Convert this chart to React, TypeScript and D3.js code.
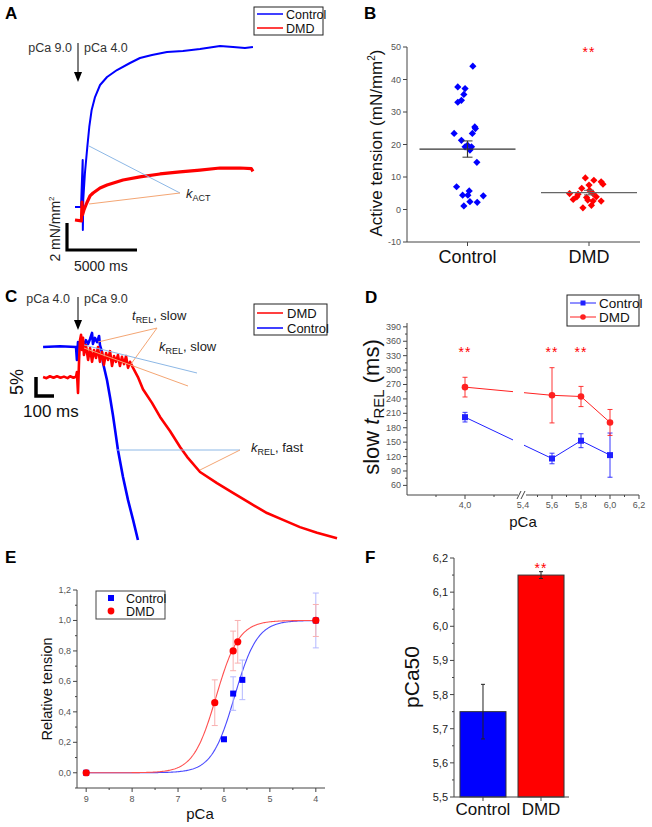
import React from "react";
import * as d3 from "d3";

const FONT = "'Liberation Sans', Arial, Helvetica, sans-serif";
const BLUE = "#0000ff";
const RED = "#ff0000";
const ANN_BLUE = "#8db8e6";
const ANN_ORANGE = "#f4a674";
const TICK = "#555";

// ---------- Panel A: activation traces, time (s) vs tension (mN/mm²)
const aControlTrace: [number, number][] = [
  [-0.5, 0.96], [-0.07, 0.96], [0.05, 4.44], [0.06, -0.74], [0.09, 1.5], [0.21, 3.48], [0.38, 5.41],
  [0.52, 6.89], [0.69, 8.15], [0.93, 9.11], [1.29, 10.0], [1.79, 10.59], [2.5, 11.11], [3.43, 11.63],
  [4.14, 12.0], [5.0, 12.22], [6.07, 12.44], [7.21, 12.52], [8.43, 12.67], [9.86, 12.89], [10.79, 12.81],
  [11.64, 12.74], [12.21, 12.81],
];
const aDmdTrace: [number, number][] = [
  [-0.5, 0], [-0.04, -0.07], [0.0, 1.33], [0.03, 0.37], [0.14, 0.74], [0.34, 1.26], [0.57, 1.78],
  [0.79, 2.0], [1.29, 2.37], [1.79, 2.59], [2.93, 2.96], [4.14, 3.19], [5.57, 3.41], [7.0, 3.56],
  [8.43, 3.7], [9.86, 3.85], [11.29, 3.85], [12.1, 3.8], [12.21, 3.6],
];

// ---------- Panel B: active tension scatter [jitter (fraction of category step), value]
const bCategories = ["Control", "DMD"];
const bControlPoints: [number, number][] = [
  [0.044, 44.1], [-0.08, 37.7], [-0.02, 37.2], [-0.03, 35.4], [-0.05, 33.6], [-0.08, 33.0], [0.06, 25.4],
  [0.065, 24.9], [-0.11, 23.4], [0.04, 23.4], [-0.05, 21.3], [0.0, 19.8], [0.033, 19.3], [-0.02, 19.3],
  [0.02, 18.3], [0.077, 14.5], [-0.09, 7.0], [0.014, 5.7], [-0.04, 4.4], [0.003, 4.4], [0.13, 4.2],
  [0.02, 2.4], [0.08, 2.2], [-0.03, 1.1],
];
const bDmdPoints: [number, number][] = [
  [-0.03, 9.7], [0.04, 9.0], [0.1, 8.5], [0.115, 7.8], [0.0, 7.5], [-0.06, 6.5], [0.005, 5.9],
  [-0.16, 4.9], [-0.09, 4.7], [0.033, 4.9], [-0.1, 3.9], [-0.02, 3.7], [-0.13, 3.1], [-0.01, 2.9],
  [0.1, 2.6], [0.033, 2.6], [0.02, 1.3], [-0.05, 0.5], [0.06, 3.9],
];
const bMeans = [18.6, 5.2];
const bSem = [2.5, 0.7];
const bYTicks = [-10, 0, 10, 20, 30, 40, 50];

// ---------- Panel C: relaxation traces, time (ms) vs relative tension (%)
const cDmdTrace: [number, number][] = [
  [-194, 92.1], [-175, 91.8], [-156, 92.3], [-136, 91.9], [-117, 92.3], [-97, 91.9], [-78, 92.2],
  [-58, 91.8], [-44, 92.3], [-25, 91.9], [-11, 92.2], [-6, 93.4], [0, 87.9], [6, 96.6], [11, 101.8],
  [17, 103.2], [22, 99.2], [28, 102.4], [33, 97.9], [44, 100.5], [56, 96.6], [67, 99.7], [78, 96.1],
  [89, 99.2], [100, 97.1], [111, 100], [122, 96.1], [133, 98.7], [144, 95.3], [156, 98.4], [167, 96.6],
  [178, 98.9], [189, 95], [200, 97.6], [211, 96.1], [222, 97.9], [233, 95], [244, 97.4], [256, 95.5],
  [267, 97.6], [278, 94.5], [289, 96.1], [306, 94.5], [333, 92.1], [361, 88.9], [411, 85.3], [456, 81.6],
  [511, 77.9], [567, 73.7], [606, 71.1], [678, 67.1], [772, 64.2], [861, 61.6], [956, 58.9], [1050, 56.3],
  [1139, 54.5], [1233, 52.6], [1328, 51.1], [1439, 49.7],
];
const cControlTrace: [number, number][] = [
  [-194, 100], [-100, 100.2], [-11, 100], [-6, 96.6], [0, 101.3], [11, 100.5], [22, 102.4], [33, 100.3],
  [44, 101.8], [56, 100.8], [67, 102.1], [78, 103.7], [83, 100.8], [94, 102.4], [106, 101.3], [117, 102.9],
  [122, 100.5], [133, 98.7], [139, 95.8], [161, 91.3], [178, 86.8], [194, 82.1], [206, 78.2], [222, 72.9],
  [250, 65.8], [278, 59.7], [306, 54.5], [333, 49.2],
];

// ---------- Panel D: slow tREL vs pCa
const dPca = [4.0, 5.6, 5.8, 6.0];
const dControl = [202, 116, 153, 123];
const dControlErr = [10, 11, 14.5, 46];
const dDmd = [264.5, 247.5, 245, 191];
const dDmdErr = [20.5, 57.5, 21, 27];
const dSignif = [4.0, 5.6, 5.8];
const dYTicks = [60, 90, 120, 150, 180, 210, 240, 270, 300, 330, 360, 390];
const dXTicks = [4.0, 5.4, 5.6, 5.8, 6.0, 6.2];

// ---------- Panel E: relative tension vs pCa
const ePcaControl = [9, 6.0, 5.8, 5.6, 4.0];
const eControl = [0, 0.22, 0.52, 0.61, 1.0];
const eControlErr = [0, 0, 0.11, 0.13, 0.18];
const ePcaDmd = [9, 6.2, 5.8, 5.7, 4.0];
const eDmd = [0, 0.46, 0.8, 0.86, 1.0];
const eDmdErr = [0, 0.15, 0.13, 0.14, 0.105];
const eFitPca50 = [5.77, 6.17];
const eFitHill = [1.75, 1.75];
const eXTicks = [9, 8, 7, 6, 5, 4];
const eYTicks = [0, 0.2, 0.4, 0.6, 0.8, 1.0, 1.2];

// ---------- Panel F: pCa50
const fCategories = ["Control", "DMD"];
const fValues = [5.75, 6.15];
const fErr = [0.08, 0.01];
const fYTicks = [5.5, 5.6, 5.7, 5.8, 5.9, 6.0, 6.1, 6.2];

const comma = (d: number, digits: number) => d.toFixed(digits).replace(".", ",");

const Letter = ({ x, y, t }: { x: number; y: number; t: string }) => (
  <text x={x} y={y} fontWeight="bold" fontSize={17} fill="#000">{t}</text>
);

const Arrow = ({ x, y0, y1 }: { x: number; y0: number; y1: number }) => (
  <g>
    <line x1={x} x2={x} y1={y0} y2={y1 - 9} stroke="#000" strokeWidth={1} />
    <path d={`M${x - 4},${y1 - 10} L${x + 4},${y1 - 10} L${x},${y1} Z`} fill="#000" />
  </g>
);

const PanelA = () => {
  const x = d3.scaleLinear().domain([0, 5]).range([82, 152]);
  const y = d3.scaleLinear().domain([0, 2]).range([220, 193]);
  const line = d3.line<[number, number]>().x((d) => x(d[0])).y((d) => y(d[1]));
  const barW = x(5) - x(0);
  const barH = y(0) - y(2);
  return (
    <g>
      <Letter x={5} y={19} t="A" />
      <Arrow x={78} y0={43} y1={82} />
      <text x={72} y={52} fontSize={12.5} textAnchor="end" fill="#333">pCa 9.0</text>
      <text x={84} y={52} fontSize={12.5} fill="#333">pCa 4.0</text>
      <path d={line(aControlTrace)!} fill="none" stroke={BLUE} strokeWidth={2} strokeLinejoin="round" />
      <path d={line(aDmdTrace)!} fill="none" stroke={RED} strokeWidth={3.2} strokeLinejoin="round" />
      <line x1={89} y1={146} x2={180} y2={193} stroke={ANN_BLUE} strokeWidth={1} />
      <line x1={89} y1={204} x2={180} y2={193} stroke={ANN_ORANGE} strokeWidth={1} />
      <text x={186} y={198} fontSize={13} fill="#222">
        <tspan fontStyle="italic">k</tspan>
        <tspan fontSize={9} dy={3}>ACT</tspan>
      </text>
      <path d={`M67,${250 - barH} V250 H${67 + barW}`} fill="none" stroke="#000" strokeWidth={3.2} />
      <text transform="translate(60,229) rotate(-90)" fontSize={14} textAnchor="middle" fill="#222">
        2 mN/mm<tspan fontSize={8} dy={-6}>2</tspan>
      </text>
      <text x={74} y={271} fontSize={14} fill="#222">5000 ms</text>
      <rect x={254} y={7} width={69} height={28} fill="#fff" stroke="#222" strokeWidth={1} />
      <line x1={257} x2={283} y1={14} y2={14} stroke={BLUE} strokeWidth={1.5} />
      <line x1={257} x2={283} y1={28} y2={28} stroke={RED} strokeWidth={1.5} />
      <text x={286} y={18.5} fontSize={12.5} fill="#111">Control</text>
      <text x={286} y={32.5} fontSize={12.5} fill="#111">DMD</text>
    </g>
  );
};

const PanelB = () => {
  const y = d3.scaleLinear().domain([-10, 50]).range([242, 47]);
  const x = d3.scalePoint<string>().domain(bCategories).range([467.5, 589]);
  const step = 589 - 467.5;
  const diamond = d3.symbol().type(d3.symbolSquare).size(26)()!;
  const groups = [bControlPoints, bDmdPoints];
  const colors = [BLUE, RED];
  return (
    <g>
      <Letter x={364} y={19} t="B" />
      <line x1={407} x2={407} y1={47} y2={242} stroke="#444" />
      <line x1={407} x2={640} y1={242} y2={242} stroke="#444" />
      {bYTicks.map((t) => (
        <g key={t}>
          <line x1={403} x2={407} y1={y(t)} y2={y(t)} stroke="#444" />
          <text x={401} y={y(t) + 3} fontSize={9} textAnchor="end" fill={TICK}>{t}</text>
        </g>
      ))}
      {bCategories.map((c) => (
        <g key={c}>
          <line x1={x(c)!} x2={x(c)!} y1={242} y2={246} stroke="#444" />
          <text x={x(c)!} y={263} fontSize={18} textAnchor="middle" fill="#111">{c}</text>
        </g>
      ))}
      <text transform="translate(382,143) rotate(-90)" fontSize={17} textAnchor="middle" fill="#111">
        Active tension (mN/mm<tspan fontSize={10} dy={-7}>2</tspan><tspan dy={7}>)</tspan>
      </text>
      {groups.map((g, gi) =>
        g.map((p, i) => (
          <path key={`${gi}-${i}`} d={diamond}
            transform={`translate(${x(bCategories[gi])! + p[0] * step},${y(p[1])}) rotate(45)`}
            fill={colors[gi]} />
        ))
      )}
      {bCategories.map((c, i) => (
        <g key={c} stroke={i === 0 ? "#333" : "#666"}>
          <line x1={x(c)! - 48} x2={x(c)! + 48} y1={y(bMeans[i])} y2={y(bMeans[i])} strokeWidth={1.3} />
          <line x1={x(c)!} x2={x(c)!} y1={y(bMeans[i] - bSem[i])} y2={y(bMeans[i] + bSem[i])} strokeWidth={1.2} />
          <line x1={x(c)! - 5} x2={x(c)! + 5} y1={y(bMeans[i] - bSem[i])} y2={y(bMeans[i] - bSem[i])} />
          <line x1={x(c)! - 5} x2={x(c)! + 5} y1={y(bMeans[i] + bSem[i])} y2={y(bMeans[i] + bSem[i])} />
        </g>
      ))}
      <text x={x("DMD")!} y={57} fontSize={14} textAnchor="middle" fill={RED} letterSpacing={1}>**</text>
    </g>
  );
};

const PanelC = () => {
  const x = d3.scaleLinear().domain([0, 100]).range([78, 96]);
  const y = d3.scaleLinear().domain([100, 95]).range([347, 366]);
  const line = d3.line<[number, number]>().x((d) => x(d[0])).y((d) => y(d[1]));
  const barW = x(100) - x(0);
  const barH = y(95) - y(100);
  return (
    <g>
      <Letter x={5} y={302} t="C" />
      <Arrow x={78} y0={297} y1={330} />
      <text x={70} y={303} fontSize={12.5} textAnchor="end" fill="#333">pCa 4.0</text>
      <text x={84} y={303} fontSize={12.5} fill="#333">pCa 9.0</text>
      <path d={line(cControlTrace)!} fill="none" stroke={BLUE} strokeWidth={2.6} strokeLinejoin="round" />
      <path d={line(cDmdTrace)!} fill="none" stroke={RED} strokeWidth={2.6} strokeLinejoin="round" />
      <line x1={157} y1={328} x2={98} y2={342} stroke={ANN_ORANGE} />
      <line x1={157} y1={328} x2={131} y2={364} stroke={ANN_ORANGE} />
      <line x1={84} y1={345} x2={197} y2={373} stroke={ANN_BLUE} />
      <line x1={84} y1={348} x2={188} y2={386} stroke={ANN_ORANGE} />
      <line x1={117} y1={450} x2={240} y2={450} stroke={ANN_BLUE} />
      <line x1={200} y1={470} x2={240} y2={450} stroke={ANN_ORANGE} />
      <text x={132} y={320} fontSize={13} fill="#222">
        <tspan fontStyle="italic">t</tspan><tspan fontSize={9} dy={3}>REL</tspan><tspan dy={-3}>, slow</tspan>
      </text>
      <text x={159} y={351} fontSize={13} fill="#222">
        <tspan fontStyle="italic">k</tspan><tspan fontSize={9} dy={3}>REL</tspan><tspan dy={-3}>, slow</tspan>
      </text>
      <text x={251} y={452} fontSize={13} fill="#222">
        <tspan fontStyle="italic">k</tspan><tspan fontSize={9} dy={3}>REL</tspan><tspan dy={-3}>, fast</tspan>
      </text>
      <path d={`M36,${396 - barH} V396 H${36 + barW}`} fill="none" stroke="#000" strokeWidth={3.5} />
      <text transform="translate(23,382) rotate(-90)" fontSize={18} textAnchor="middle" fill="#111">5%</text>
      <text x={23} y={417} fontSize={17} fill="#111">100 ms</text>
      <rect x={254} y={304} width={73} height={31} fill="#fff" stroke="#222" />
      <line x1={257} x2={283} y1={313} y2={313} stroke={RED} strokeWidth={1.5} />
      <line x1={257} x2={283} y1={328} y2={328} stroke={BLUE} strokeWidth={1.5} />
      <text x={287} y={317.5} fontSize={13} fill="#111">DMD</text>
      <text x={287} y={332.5} fontSize={13} fill="#111">Control</text>
    </g>
  );
};

function gapSegments(p1: [number, number], p2: [number, number], g0: number, g1: number) {
  if (p1[0] < g0 && p2[0] > g1) {
    const at = (gx: number): [number, number] => {
      const t = (gx - p1[0]) / (p2[0] - p1[0]);
      return [gx, p1[1] + t * (p2[1] - p1[1])];
    };
    return [[p1, at(g0)], [at(g1), p2]];
  }
  return [[p1, p2]];
}

const PanelD = () => {
  const x = d3.scaleLinear().domain([3.6, 4.4, 5.4, 6.2]).range([407, 523, 523, 639]);
  const y = d3.scaleLinear().domain([40, 398]).range([495, 323]);
  const series = [
    { v: dControl, e: dControlErr, c: "#2020ff", sq: true },
    { v: dDmd, e: dDmdErr, c: "#ff2020", sq: false },
  ];
  const minorY = d3.range(75, 390, 30);
  const minorX = [3.8, 4.2, 5.5, 5.7, 5.9, 6.1];
  return (
    <g>
      <Letter x={365} y={303} t="D" />
      <line x1={407} x2={407} y1={323} y2={495} stroke="#444" />
      <line x1={407} x2={639} y1={495} y2={495} stroke="#444" />
      {dYTicks.map((t) => (
        <g key={t}>
          <line x1={403} x2={407} y1={y(t)} y2={y(t)} stroke="#444" />
          <text x={401} y={y(t) + 3} fontSize={9} textAnchor="end" fill={TICK}>{t}</text>
        </g>
      ))}
      {minorY.map((t) => (
        <line key={t} x1={405} x2={407} y1={y(t)} y2={y(t)} stroke="#444" />
      ))}
      {dXTicks.map((t) => (
        <g key={t}>
          <line x1={x(t)} x2={x(t)} y1={495} y2={499} stroke="#444" />
          <text x={x(t)} y={508} fontSize={9} textAnchor="middle" fill={TICK}>{comma(t, 1)}</text>
        </g>
      ))}
      {minorX.map((t) => (
        <line key={t} x1={x(t)} x2={x(t)} y1={495} y2={497} stroke="#444" />
      ))}
      <rect x={518} y={490} width={8} height={9} fill="#fff" />
      <line x1={517} y1={499} x2={521} y2={491} stroke="#444" />
      <line x1={521} y1={499} x2={525} y2={491} stroke="#444" />
      <text transform="translate(379,407) rotate(-90)" fontSize={22} textAnchor="middle" fill="#111">
        slow <tspan fontStyle="italic">t</tspan><tspan fontSize={15} dy={5}>REL</tspan><tspan dy={-5}> (ms)</tspan>
      </text>
      <text x={523} y={527} fontSize={15} textAnchor="middle" fill="#111">pCa</text>
      {series.map((s, si) => {
        const pts = dPca.map((p, i) => [x(p), y(s.v[i])] as [number, number]);
        const segs: [number, number][][] = [];
        for (let i = 0; i < pts.length - 1; i++) segs.push(...gapSegments(pts[i], pts[i + 1], 513, 524));
        return (
          <g key={si}>
            {segs.map((sg, k) => (
              <line key={k} x1={sg[0][0]} y1={sg[0][1]} x2={sg[1][0]} y2={sg[1][1]} stroke={s.c} strokeWidth={1} />
            ))}
            {dPca.map((p, i) => (
              <g key={i} stroke={s.c} strokeWidth={0.9}>
                <line x1={x(p)} x2={x(p)} y1={y(s.v[i] - s.e[i])} y2={y(s.v[i] + s.e[i])} />
                <line x1={x(p) - 2.5} x2={x(p) + 2.5} y1={y(s.v[i] - s.e[i])} y2={y(s.v[i] - s.e[i])} />
                <line x1={x(p) - 2.5} x2={x(p) + 2.5} y1={y(s.v[i] + s.e[i])} y2={y(s.v[i] + s.e[i])} />
              </g>
            ))}
            {dPca.map((p, i) =>
              s.sq ? (
                <rect key={`m${i}`} x={x(p) - 3} y={y(s.v[i]) - 3} width={6} height={6} fill={s.c} />
              ) : (
                <circle key={`m${i}`} cx={x(p)} cy={y(s.v[i])} r={3.3} fill={s.c} />
              )
            )}
          </g>
        );
      })}
      {dSignif.map((p) => (
        <text key={p} x={x(p)} y={357} fontSize={14} textAnchor="middle" fill={RED} letterSpacing={1}>**</text>
      ))}
      <rect x={567} y={295} width={72} height={31} fill="#fff" stroke="#222" />
      <line x1={570} x2={596} y1={303} y2={303} stroke="#2020ff" />
      <rect x={580.5} y={300.5} width={5} height={5} fill="#2020ff" />
      <line x1={570} x2={596} y1={317} y2={317} stroke="#ff2020" />
      <circle cx={583} cy={317} r={2.8} fill="#ff2020" />
      <text x={599} y={308} fontSize={13.5} fill="#111">Control</text>
      <text x={599} y={322} fontSize={13.5} fill="#111">DMD</text>
    </g>
  );
};

const PanelE = () => {
  const x = d3.scaleLinear().domain([9.2, 3.8]).range([77, 325]);
  const y = d3.scaleLinear().domain([-0.1, 1.2]).range([788, 590]);
  const pcaGrid = d3.range(9, 3.99, -0.02);
  const curve = (p50: number, n: number) =>
    d3.line<number>().x((p) => x(p)).y((p) => y(1 / (1 + Math.pow(10, n * (p - p50)))))(pcaGrid)!;
  const minorX = [8.5, 7.5, 6.5, 5.5, 4.5];
  const minorY = [-0.1, 0.1, 0.3, 0.5, 0.7, 0.9, 1.1];
  return (
    <g>
      <Letter x={5} y={563} t="E" />
      <line x1={77} x2={77} y1={590} y2={788} stroke="#444" />
      <line x1={77} x2={325} y1={788} y2={788} stroke="#444" />
      {eYTicks.map((t) => (
        <g key={t}>
          <line x1={73} x2={77} y1={y(t)} y2={y(t)} stroke="#444" />
          <text x={71} y={y(t) + 3} fontSize={9} textAnchor="end" fill={TICK}>{comma(t, 1)}</text>
        </g>
      ))}
      {minorY.map((t) => (
        <line key={t} x1={75} x2={77} y1={y(t)} y2={y(t)} stroke="#444" />
      ))}
      {eXTicks.map((t) => (
        <g key={t}>
          <line x1={x(t)} x2={x(t)} y1={788} y2={792} stroke="#444" />
          <text x={x(t)} y={802} fontSize={9} textAnchor="middle" fill={TICK}>{t}</text>
        </g>
      ))}
      {minorX.map((t) => (
        <line key={t} x1={x(t)} x2={x(t)} y1={788} y2={790} stroke="#444" />
      ))}
      <text transform="translate(52,689) rotate(-90)" fontSize={14.5} textAnchor="middle" fill="#111">Relative tension</text>
      <text x={200} y={819} fontSize={15} textAnchor="middle" fill="#111">pCa</text>
      <path d={curve(eFitPca50[0], eFitHill[0])} fill="none" stroke="#4a4aff" strokeWidth={1.1} />
      <path d={curve(eFitPca50[1], eFitHill[1])} fill="none" stroke="#ff5050" strokeWidth={1.1} />
      {ePcaControl.map((p, i) =>
        eControlErr[i] > 0 ? (
          <g key={`ce${i}`} stroke="#b4b8ff" strokeWidth={1}>
            <line x1={x(p)} x2={x(p)} y1={y(eControl[i] - eControlErr[i])} y2={y(eControl[i] + eControlErr[i])} />
            <line x1={x(p) - 3} x2={x(p) + 3} y1={y(eControl[i] - eControlErr[i])} y2={y(eControl[i] - eControlErr[i])} />
            <line x1={x(p) - 3} x2={x(p) + 3} y1={y(eControl[i] + eControlErr[i])} y2={y(eControl[i] + eControlErr[i])} />
          </g>
        ) : null
      )}
      {ePcaDmd.map((p, i) =>
        eDmdErr[i] > 0 ? (
          <g key={`de${i}`} stroke="#f8b0b0" strokeWidth={1}>
            <line x1={x(p)} x2={x(p)} y1={y(eDmd[i] - eDmdErr[i])} y2={y(eDmd[i] + eDmdErr[i])} />
            <line x1={x(p) - 3} x2={x(p) + 3} y1={y(eDmd[i] - eDmdErr[i])} y2={y(eDmd[i] - eDmdErr[i])} />
            <line x1={x(p) - 3} x2={x(p) + 3} y1={y(eDmd[i] + eDmdErr[i])} y2={y(eDmd[i] + eDmdErr[i])} />
          </g>
        ) : null
      )}
      {ePcaControl.map((p, i) => (
        <rect key={`cm${i}`} x={x(p) - 3} y={y(eControl[i]) - 3} width={6} height={6} fill={BLUE} />
      ))}
      {ePcaDmd.map((p, i) => (
        <circle key={`dm${i}`} cx={x(p)} cy={y(eDmd[i])} r={3.6} fill={RED} />
      ))}
      <rect x={96} y={591} width={69} height={28} fill="#fff" stroke="#444" />
      <rect x={108} y={595} width={6} height={6} fill={BLUE} />
      <circle cx={111} cy={611} r={3.4} fill={RED} />
      <text x={126} y={602.5} fontSize={12.5} fill="#111">Control</text>
      <text x={126} y={615.5} fontSize={12.5} fill="#111">DMD</text>
    </g>
  );
};

const PanelF = () => {
  const y = d3.scaleLinear().domain([5.5, 6.2]).range([797, 558]);
  const x = d3.scaleBand<string>().domain(fCategories).range([454, 570]).paddingInner(0.207).paddingOuter(0.103);
  const colors = [BLUE, RED];
  const minor = d3.range(5.55, 6.2, 0.1);
  return (
    <g>
      <Letter x={365} y={563} t="F" />
      {fCategories.map((c, i) => (
        <rect key={c} x={x(c)!} y={y(fValues[i])} width={x.bandwidth()} height={y(5.5) - y(fValues[i])}
          fill={colors[i]} stroke="#333" strokeWidth={1} />
      ))}
      {fCategories.map((c, i) => {
        const cx = x(c)! + x.bandwidth() / 2;
        return (
          <g key={c} stroke="#222" strokeWidth={1}>
            <line x1={cx} x2={cx} y1={y(fValues[i] - fErr[i])} y2={y(fValues[i] + fErr[i])} />
            <line x1={cx - 2} x2={cx + 2} y1={y(fValues[i] - fErr[i])} y2={y(fValues[i] - fErr[i])} />
            <line x1={cx - 2} x2={cx + 2} y1={y(fValues[i] + fErr[i])} y2={y(fValues[i] + fErr[i])} />
          </g>
        );
      })}
      <line x1={454} x2={454} y1={558} y2={797} stroke="#444" />
      <line x1={454} x2={569} y1={797} y2={797} stroke="#444" />
      {fYTicks.map((t) => (
        <g key={t}>
          <line x1={450} x2={454} y1={y(t)} y2={y(t)} stroke="#444" />
          <text x={448} y={y(t) + 4} fontSize={11} textAnchor="end" fill="#222">{comma(t, 1)}</text>
        </g>
      ))}
      {minor.map((t) => (
        <line key={t} x1={452} x2={454} y1={y(t)} y2={y(t)} stroke="#444" />
      ))}
      {fCategories.map((c) => (
        <g key={c}>
          <line x1={x(c)! + x.bandwidth() / 2} x2={x(c)! + x.bandwidth() / 2} y1={797} y2={801} stroke="#444" />
          <text x={x(c)! + x.bandwidth() / 2} y={815} fontSize={17} textAnchor="middle" fill="#111">{c}</text>
        </g>
      ))}
      <text transform="translate(419,677) rotate(-90)" fontSize={21} textAnchor="middle" fill="#111">pCa50</text>
      <text x={x("DMD")! + x.bandwidth() / 2} y={573} fontSize={14} textAnchor="middle" fill={RED} letterSpacing={1}>**</text>
    </g>
  );
};

export default function App() {
  return (
    <svg width={652} height={827} viewBox="0 0 652 827"
      style={{ position: "absolute", left: 0, top: 0, background: "#fff", fontFamily: FONT }}>
      <rect width={652} height={827} fill="#fff" />
      <PanelA />
      <PanelB />
      <PanelC />
      <PanelD />
      <PanelE />
      <PanelF />
    </svg>
  );
}
